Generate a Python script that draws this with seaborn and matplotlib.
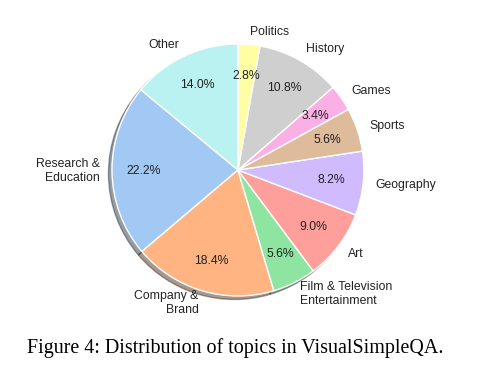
import matplotlib
matplotlib.use('Agg')
import matplotlib.pyplot as plt
import seaborn as sns

# topic shares (%), counterclockwise from the left
topics = ['Research &\nEducation', 'Company &\nBrand', 'Film & Television\nEntertainment',
          'Art', 'Geography', 'Sports', 'Games', 'History', 'Politics', 'Other']
shares = [22.2, 18.4, 5.6, 9.0, 8.2, 5.6, 3.4, 10.8, 2.8, 14.0]

sns.set_style('white')
plt.rcParams['font.family'] = ['Liberation Sans', 'DejaVu Sans']

colors = sns.color_palette('pastel', len(shares))

fig = plt.figure(figsize=(4.8, 3.77), dpi=100)
ax = fig.add_axes([0.1677, 0.1313, 0.656, 0.8355])
wedges, texts, autotexts = ax.pie(
    shares, labels=topics, colors=colors, autopct='%1.1f%%',
    startangle=140.4, shadow=True, pctdistance=0.75, labeldistance=1.1,
    wedgeprops={'edgecolor': 'white', 'linewidth': 1},
    textprops={'fontsize': 8.8, 'color': '#222222'})
ax.set_aspect('equal')

fig.text(0.49, 0.077, 'Figure 4: Distribution of topics in VisualSimpleQA.',
         ha='center', va='center', fontsize=14.4, color='black',
         family='Liberation Serif')

fig.savefig('out.png', dpi=100)
